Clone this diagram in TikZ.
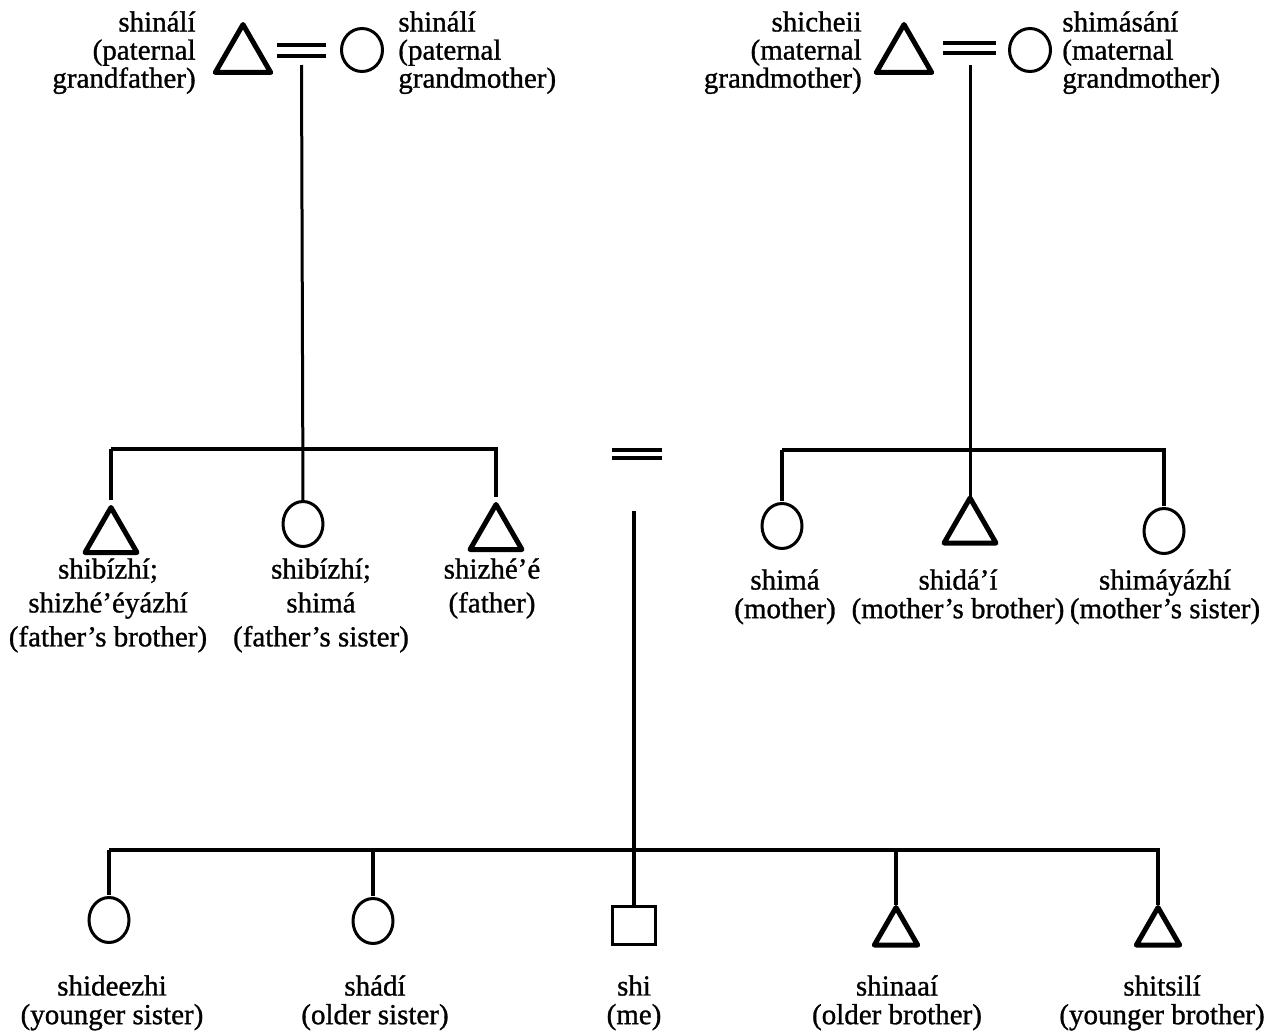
\documentclass[tikz,border=0pt]{standalone}
\usepackage{fontspec}
\setmainfont{Liberation Serif}[FakeBold=1]
\usetikzlibrary{shapes.geometric}
\tikzset{
  male/.style={regular polygon, regular polygon sides=3, draw, line width=0.1cm, line join=round, inner sep=0pt, outer sep=0pt, minimum size=1.2cm},
  female/.style={ellipse, draw, line width=0.06cm, inner sep=0pt, outer sep=0pt, minimum width=0.8cm, minimum height=0.9cm},
  topfemale/.style={female, minimum width=0.82cm, minimum height=0.86cm},
  ego/.style={rectangle, draw, line width=0.06cm, inner sep=0pt, outer sep=0pt, minimum width=0.86cm, minimum height=0.76cm},
  lbl/.style={inner sep=0pt, font=\fontsize{16.5}{16}\selectfont},
  lblmid/.style={inner sep=0pt, align=center, anchor=north, font=\fontsize{16.5}{19.3}\selectfont},
  lblrow/.style={inner sep=0pt, align=center, anchor=north, font=\fontsize{16.5}{16.3}\selectfont},
  link/.style={line width=0.08cm},
  desc/.style={line width=0.06cm},
  marr/.style={line width=0.08cm}
}
\begin{document}
\begin{tikzpicture}[x=0.02cm, y=-0.02cm]
\useasboundingbox (0,0) rectangle (1280,1031);
% ---------- grandparents ----------
\node[male, minimum size=1.28cm] (gfP) at (243,56.5) {};
\node[topfemale] (gmP) at (362,50) {};
\node[male, minimum size=1.28cm] (gfM) at (904,56.5) {};
\node[topfemale] (gmM) at (1030,50) {};
\coordinate (mP) at (301.5,50.5);
\coordinate (mM) at (969.5,48);
\coordinate (mC) at (637,454);
\draw[marr] ([xshift=-24.5*0.02cm,yshift=0.11cm]mP) -- ++(49,0);
\draw[marr] ([xshift=-24.5*0.02cm,yshift=-0.11cm]mP) -- ++(49,0);
\draw[marr] ([xshift=-26.5*0.02cm,yshift=0.1cm]mM) -- ++(53,0);
\draw[marr] ([xshift=-26.5*0.02cm,yshift=-0.1cm]mM) -- ++(53,0);
\draw[marr] ([xshift=-25*0.02cm,yshift=0.08cm]mC) -- ++(50,0);
\draw[marr] ([xshift=-25*0.02cm,yshift=-0.08cm]mC) -- ++(50,0);
\node[lbl, align=right, anchor=north east] (lgfP) at (196,11) {shinálí\\(paternal\\grandfather)};
\node[lbl, align=left, anchor=north west] (lgmP) at (398,11) {shinálí\\(paternal\\grandmother)};
\node[lbl, align=right, anchor=north east] (lgfM) at (862,11) {shicheii\\(maternal\\grandmother)};
\node[lbl, align=left, anchor=north west] (lgmM) at (1062,11) {shimásání\\(maternal\\grandmother)};
% ---------- parents' generation ----------
\node[male] (fb) at (111,537.5) {};
\node[female] (fs) at (303,524) {};
\node[male] (fa) at (496,534.5) {};
\node[female] (mo) at (782,526) {};
\node[male] (mb) at (970,528) {};
\node[female] (ms) at (1164,531) {};
\node[lblmid] (lfb) at (108,558) {shibízhí;\\shizhé’éyázhí\\(father’s brother)};
\node[lblmid] (lfs) at (321,558) {shibízhí;\\shimá\\(father’s sister)};
\node[lblmid] (lfa) at (492,558) {shizhé’é\\(father)};
\node[lblrow] (lmo) at (785,569) {shimá\\(mother)};
\node[lblrow] (lmb) at (958,569) {shidá’í\\(mother’s brother)};
\node[lblrow] (lms) at (1165,569) {shimáyázhí\\(mother’s sister)};
\coordinate (barP) at (0,449);
\coordinate (barM) at (0,450);
% paternal descent
\draw[desc] (mP |- 0,65) -- (fs.north);
\draw[link, shorten >=0.16cm] (fb.corner 1 |- barP) -- (fa.corner 1 |- barP) -- (fa.corner 1);
\draw[link, shorten >=0.16cm] (fb.corner 1 |- barP) -- (fb.corner 1);
% maternal descent
\draw[desc] (mb.corner 1 |- 0,65) -- (mb.corner 1);
\draw[link, shorten >=0.06cm] (mo.north |- barM) -- (mo.north);
\draw[link, shorten >=0.06cm] (mo.north |- barM) -- (ms.north |- barM) -- (ms.north);
% ---------- ego's generation ----------
\node[female] (ys) at (109,920) {};
\node[female] (os) at (373,921) {};
\node[ego] (me) at (634,925) {};
\node[male, minimum size=1.0cm] (ob) at (896,932.5) {};
\node[male, minimum size=1.0cm] (yb) at (1158,932.5) {};
\coordinate (barE) at (0,850);
\draw[link] (me.north |- 0,511) -- (me.north);
\draw[link, shorten >=0.06cm] (ys.north |- barE) -- (ys.north);
\draw[link, shorten >=0.06cm] (ys.north |- barE) -- (yb.corner 1 |- barE) -- (yb.corner 1);
\draw[link, shorten >=0.06cm] (os.north |- barE) -- (os.north);
\draw[link, shorten >=0.06cm] (ob.corner 1 |- barE) -- (ob.corner 1);
\node[lblrow] (lys) at (112,975) {shideezhi\\(younger sister)};
\node[lblrow] (los) at (375,975) {shádí\\(older sister)};
\node[lblrow] (lme) at (634,975) {shi\\(me)};
\node[lblrow] (lob) at (897,975) {shinaaí\\(older brother)};
\node[lblrow] (lyb) at (1162,975) {shitsilí\\(younger brother)};
\end{tikzpicture}
\end{document}
